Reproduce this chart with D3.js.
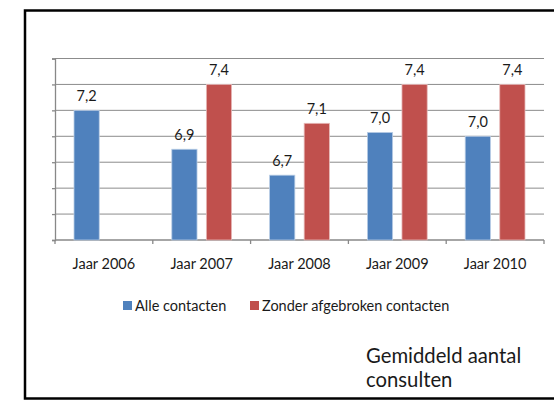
<!DOCTYPE html>
<html>
<head>
<meta charset="utf-8">
<script src="https://cdn.jsdelivr.net/npm/d3@7"></script>
<style>
  body { margin: 0; background: #fff; }
  svg { display: block; font-family: Lato, "Open Sans", sans-serif; }
</style>
</head>
<body>
<svg></svg>
<script>
// data
const years = ["Jaar 2006", "Jaar 2007", "Jaar 2008", "Jaar 2009", "Jaar 2010"];
const seriesNames = ["Alle contacten", "Zonder afgebroken contacten"];
const alleContacten = [7.2, 6.9, 6.7, 7.03, 7.0];
const zonderAfgebroken = [null, 7.4, 7.1, 7.4, 7.4];
const yTicks = [6.2, 6.4, 6.6, 6.8, 7.0, 7.2, 7.4, 7.6];
const colors = ["#4f81bd", "#c0504d"];

const width = 554;
const height = 402;
const plot = { left: 55, right: 544, top: 58.5, bottom: 240 };

const svg = d3.select("svg").attr("width", width).attr("height", height);

// zwarte rand om het geheel
svg.append("rect")
  .attr("x", 25).attr("y", 10.5)
  .attr("width", 560).attr("height", 388)
  .attr("fill", "none")
  .attr("stroke", "#000")
  .attr("stroke-width", 2.5);

const x = d3.scaleBand().domain(years).range([plot.left, plot.right]);
const y = d3.scaleLinear().domain([6.2, 7.6]).range([plot.bottom, plot.top]);
const x1 = d3.scaleBand()
  .domain([0, 1])
  .range([0, x.bandwidth()])
  .paddingInner(0.27)
  .paddingOuter(0.55);

// gridlijnen
svg.append("g")
  .selectAll("line")
  .data(yTicks.slice(1))
  .join("line")
  .attr("x1", plot.left).attr("x2", plot.right)
  .attr("y1", (d) => y(d)).attr("y2", (d) => y(d))
  .attr("stroke", "#8c8c8c")
  .attr("stroke-width", 1);

// y-as zonder labels
const yAxis = svg.append("g")
  .attr("transform", "translate(" + plot.left + ",0)")
  .call(d3.axisLeft(y).tickValues(yTicks).tickSize(3).tickFormat(""));
yAxis.selectAll("path, line").attr("stroke", "#888").attr("stroke-width", 1.3);

// x-as
const xAxis = svg.append("g")
  .attr("transform", "translate(0," + plot.bottom + ")");
xAxis.append("line")
  .attr("x1", plot.left).attr("x2", plot.right)
  .attr("stroke", "#888").attr("stroke-width", 1.5);
xAxis.selectAll(".tick")
  .data(years.map((d) => x(d)).concat([plot.right]))
  .join("line")
  .attr("class", "tick")
  .attr("x1", (d) => d).attr("x2", (d) => d)
  .attr("y1", 0).attr("y2", 4)
  .attr("stroke", "#888").attr("stroke-width", 1.3);
xAxis.selectAll("text")
  .data(years)
  .join("text")
  .attr("x", (d) => x(d) + x.bandwidth() / 2)
  .attr("y", 29)
  .attr("text-anchor", "middle")
  .style("font-size", "14.5px")
  .attr("fill", "#1a1a1a")
  .text((d) => d);

// balken
const rows = years.map((yr, i) => ({
  year: yr,
  values: [alleContacten[i], zonderAfgebroken[i]],
}));

const groups = svg.append("g")
  .selectAll("g")
  .data(rows)
  .join("g")
  .attr("transform", (d) => "translate(" + x(d.year) + ",0)");

const bars = groups.selectAll("g")
  .data((d) => d.values.map((v, k) => ({ k: k, v: v })).filter((e) => e.v != null))
  .join("g");

bars.append("rect")
  .attr("x", (d) => x1(d.k))
  .attr("width", x1.bandwidth())
  .attr("y", (d) => y(d.v))
  .attr("height", (d) => plot.bottom - y(d.v))
  .attr("fill", (d) => colors[d.k])
  .attr("stroke", (d) => (d.k == 0 ? "#b9cde5" : "#e6b9b8"))
  .attr("stroke-width", 0.8);

bars.append("text")
  .attr("x", (d) => x1(d.k) + x1.bandwidth() / 2)
  .attr("y", (d) => y(d.v) - 9)
  .attr("text-anchor", "middle")
  .style("font-size", "14.5px")
  .attr("fill", "#1a1a1a")
  .text((d) => d.v.toFixed(1).replace(".", ","));

// legenda
const legendPos = [123, 250];
const legend = svg.append("g")
  .selectAll("g")
  .data(seriesNames)
  .join("g")
  .attr("transform", (d, i) => "translate(" + legendPos[i] + ",301)");
legend.append("rect")
  .attr("width", 9).attr("height", 9)
  .attr("fill", (d, i) => colors[i]);
legend.append("text")
  .attr("x", 12).attr("y", 9.5)
  .style("font-size", "14.5px")
  .attr("fill", "#1a1a1a")
  .text((d) => d);

// titel rechtsonder
const title = svg.append("text")
  .attr("x", 366)
  .attr("y", 363)
  .style("font-size", "20.3px")
  .attr("fill", "#1a1a1a");
title.append("tspan").attr("x", 366).text("Gemiddeld aantal");
title.append("tspan").attr("x", 366).attr("dy", 24).text("consulten");
</script>
</body>
</html>
